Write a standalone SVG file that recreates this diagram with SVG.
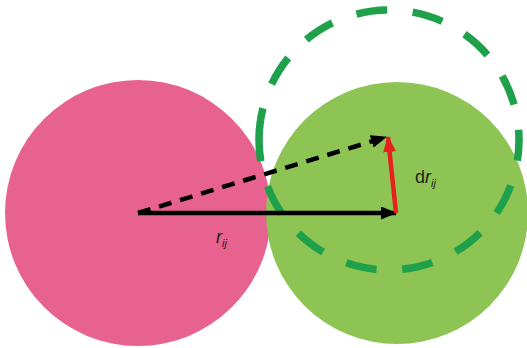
<svg xmlns="http://www.w3.org/2000/svg" width="527" height="348" viewBox="0 0 527 348">
<style>
.lbl{font-family:"Liberation Sans",Arial,sans-serif;font-size:18px;fill:#231f20}
.sub{font-size:11px;font-style:italic}
</style>
<defs>
<marker id="ab" viewBox="0 0 16 13" refX="15" refY="6.5" markerWidth="16" markerHeight="13" markerUnits="userSpaceOnUse" orient="auto"><path d="M0,0 L16,6.5 L0,13 z" fill="#000"/></marker>
<marker id="ar" viewBox="0 0 16 13" refX="15" refY="6.5" markerWidth="16" markerHeight="13" markerUnits="userSpaceOnUse" orient="auto"><path d="M0,0 L16,6.5 L0,13 z" fill="#e8211f"/></marker>
</defs>
<rect width="527" height="348" fill="#fff"/>
<g id="particle-i"><circle cx="138" cy="213" r="133" fill="#e8628f"/></g>
<g id="particle-j"><circle cx="397" cy="213" r="131" fill="#8dc453"/></g>
<g id="displaced-j"><circle cx="389" cy="140" r="130" fill="none" stroke="#1fa04a" stroke-width="7.5" stroke-dasharray="31 25.7" transform="rotate(180.5 389 140)"/></g>
<g id="connectors">
<line x1="138" y1="213" x2="396" y2="213" stroke="#000" stroke-width="4.5" marker-end="url(#ab)"/>
<line x1="138" y1="213" x2="386" y2="137" stroke="#000" stroke-width="4.5" stroke-dasharray="13 9" marker-end="url(#ab)"/>
<line x1="396" y1="213" x2="388" y2="137" stroke="#e8211f" stroke-width="4.5" marker-end="url(#ar)"/>
</g>
<g id="labels">
<text class="lbl" x="216" y="243"><tspan font-style="italic">r</tspan><tspan class="sub" dy="4">ij</tspan></text>
<text class="lbl" x="415" y="183">d<tspan font-style="italic">r</tspan><tspan class="sub" dy="4">ij</tspan></text>
</g>
</svg>
